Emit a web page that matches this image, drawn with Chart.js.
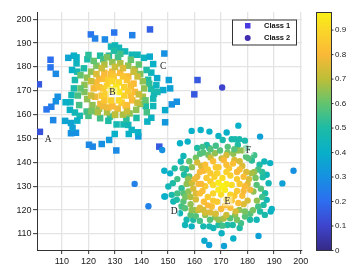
<!DOCTYPE html>
<html>
<head>
<meta charset="utf-8">
<script src="https://cdn.jsdelivr.net/npm/chart.js@4.4.1/dist/chart.umd.min.js"></script>
<style>
  body { margin: 0; background: #fff; }
  canvas { display: block; }
</style>
</head>
<body>
<canvas id="myChart" width="360" height="279"></canvas>
<script>
//# data: [x, y, level]
const xTicks = [110, 120, 130, 140, 150, 160, 170, 180, 190, 200];
const yTicks = [110, 120, 130, 140, 150, 160, 170, 180, 190, 200];
const barTicks = [0, 0.1, 0.2, 0.3, 0.4, 0.5, 0.6, 0.7, 0.8, 0.9];
const barMax = 0.972;

const class1Points = [
  // far points
  [143.2,195.7,0.17],[129.7,194.4,0.22],[120.9,193.6,0.22],[122.5,191.9,0.25],[126.2,191.5,0.28],[136.5,193.3,0.25],
  [148.6,185.6,0.3],[105.7,183,0.2],[105.7,179.8,0.22],[107.7,177.1,0.28],[101.3,172.7,0.15],[108.4,167.5,0.3],
  [107.7,165.6,0.3],[106,163.3,0.25],[104.2,162.2,0.22],[106.7,157.7,0.27],[101.7,152.8,0.13],[150.3,174.5,0.35],
  [150.8,171,0.35],[153.3,165.4,0.3],[151.4,164.3,0.3],[148.2,170.3,0.38],[148.9,161.9,0.38],[148.9,156.8,0.32],
  [161.1,174.5,0.15],[159.9,168.5,0.15],[113.4,152.2,0.3],[115.3,152.4,0.3],[120.2,147.4,0.27],[121.6,146.6,0.27],
  [125,147.7,0.3],[127.8,149.4,0.33],[130.5,145,0.28],[129.9,151.9,0.4],[135.2,151.9,0.4],[138.8,150.9,0.33],
  [146.7,146.6,0.15],
  // outer ring
  [128.5,188.5,0.45],[130,189,0.45],[131.5,188,0.45],[129.6,186.8,0.5],[133.8,186.5,0.45],[124.4,184.7,0.5],
  [114.5,184.7,0.4],[115.5,184,0.4],[112.4,183.8,0.36],[119.6,183.2,0.48],[125.6,183.2,0.55],[127.7,184.7,0.52],
  [131.2,184,0.55],[136.3,185.1,0.45],[138.5,185.1,0.45],[140.9,183.8,0.43],[143.1,184.3,0.38],[144.4,181.2,0.4],
  [143.7,177.6,0.43],[145.9,175.3,0.38],[142.5,174.6,0.5],[115.5,181.5,0.43],[113.8,178.7,0.4],[115.8,178,0.46],
  [118.3,179.4,0.5],[114.9,174.5,0.48],[114.5,171,0.48],[113.6,168.2,0.46],[113.2,165.2,0.43],[111.4,165.2,0.4],
  [113,162,0.41],[114.9,160.9,0.45],[116.7,159.5,0.47],[115.8,157.5,0.4],[113.4,156.5,0.36],[111.2,157.4,0.36],
  [114,154.5,0.35],[119.3,161.3,0.55],[123.3,161.3,0.6],[124.4,158.5,0.55],[128.1,159.2,0.55],[130,159.9,0.58],
  [127.5,157.4,0.5],[130.6,155.9,0.47],[133.2,155.9,0.47],[135,155.7,0.45],[136.3,153.6,0.42],[134.3,158.2,0.52],
  [138.1,158.6,0.5],[138.7,152.6,0.4],[142.2,157.1,0.42],[143.7,158.7,0.42],[144.4,163.6,0.45],[141.6,163.6,0.5],
  [144.4,166.7,0.46],[144.7,168.7,0.46],[143.7,170.8,0.5],[145.6,172.3,0.43],[142.9,172.9,0.52],[141.9,178.7,0.5],
  // middle ring
  [121,178,0.65],[123,180.5,0.63],[126,181,0.68],[129,182,0.65],[132,181.5,0.68],[135,180.5,0.65],[137.5,179,0.68],
  [139.5,177,0.63],[140.5,174,0.65],[141,171,0.65],[140.5,167.5,0.68],[139.5,164.5,0.65],[138,162,0.65],[135.5,160.5,0.65],
  [133,160,0.68],[127,161,0.68],[124,162.5,0.65],[121.5,164,0.65],[119.5,166.5,0.65],[118.5,169.5,0.63],[118.5,172.5,0.65],
  [119.5,175.5,0.65],[117,176.5,0.6],[116.5,164,0.56],[117,171,0.6],[120,159.5,0.56],[136,183,0.6],[127,184,0.63],
  [122,182.5,0.6],[142,161,0.56],[120,185,0.52],[139,181,0.6],[146,169.5,0.47],[116,168,0.56],
  [121,161.5,0.62],[132,185.5,0.55],[141.5,166,0.6],
  // inner ring
  [124,175,0.8],[126,177.5,0.8],[129,178,0.78],[132,177.5,0.8],[135,176,0.8],[137,173,0.8],[137.5,169.5,0.8],
  [136.5,166,0.8],[134.5,163.5,0.8],[131,162.5,0.78],[127.5,163,0.78],[124.5,164.5,0.79],[122.5,167.5,0.78],
  [122,171,0.79],[123,173.5,0.8],[121,168,0.72],[125,179.5,0.72],[138.5,176,0.72],[138.5,165,0.72],[123.5,161,0.68],
  [133,179.5,0.75],[130,180,0.72],[121,174,0.72],[134.5,161.5,0.72],[130,160,0.7],
  [123,177,0.75],[137,178,0.72],[139,168.5,0.72],
  // core
  [125,168,0.85],[124,171.5,0.82],[126,175,0.82],[128.5,177,0.82],[133,176,0.84],[136,172,0.82],[136,168,0.82],
  [134,164,0.82],[129,163.5,0.8],[125.5,163.5,0.78],
  [125.5,171,0.85],[134.5,174.5,0.84],[126,166,0.84],[132.5,165,0.85],[129.5,176,0.85],[135,170,0.85],[127.5,174.5,0.87],
  [127,172,0.88],[129,174,0.9],[131.5,173.5,0.9],[133.5,171.5,0.88],[133.5,168,0.88],[131.5,166,0.9],[128.5,166,0.88],
  [126.5,168.5,0.87],[128.5,170.5,0.94],[131.5,169.5,0.94],[130.5,171.5,0.94],[130,170,0.96]
];

const class2Points = [
  // far points
  [170.4,171.4,0.1],[137.4,131,0.25],[142.6,121.6,0.25],[147.8,145.2,0.3],[197.3,136.5,0.3],[193.1,131.2,0.35],
  [184.1,109.2,0.35],[174.6,108.1,0.4],[171.1,105,0.35],[163.7,107.2,0.38],[165.5,105.4,0.35],[170.2,110.3,0.42],
  [148.6,136.5,0.4],[150.8,135.4,0.4],[148.6,125.7,0.4],[176.5,155.4,0.4],[184.7,150.8,0.35],
  // outer ring
  [158.9,153.2,0.4],[162.3,153.6,0.4],[165.6,152.9,0.4],[169,151.1,0.42],[172.1,152.5,0.4],[170.6,149.4,0.48],
  [174,149.7,0.48],[175.3,149.7,0.48],[176.9,149.7,0.48],[179,149.1,0.48],[176.3,147.3,0.5],[154.5,148,0.4],
  [157.4,148.7,0.4],[164.6,147.3,0.5],[165.6,145.9,0.5],[155.8,142.7,0.45],[154.8,140.4,0.45],[181.6,140.8,0.52],
  [184.5,139,0.5],[186.3,140.4,0.45],[188.5,139.7,0.42],[150.1,129.9,0.45],[187.2,134.8,0.45],[185.7,133.8,0.5],
  [187.9,131.3,0.45],[186.6,127.1,0.5],[187.2,124.3,0.45],[189.1,120.5,0.42],[188.7,119.4,0.42],[186,122.2,0.5],
  [184.7,119.4,0.5],[183.4,116,0.45],[180.9,116,0.5],[174.4,113.8,0.5],[172.4,113.8,0.5],[165.6,113.2,0.47],
  [163.3,113.2,0.47],[167.1,112.5,0.45],[169,113.8,0.5],[159.5,116,0.5],[157,116,0.47],[156.4,113.8,0.45],
  [158.9,113.2,0.42],[154.5,118.7,0.45],[152,123.6,0.45],[151.4,126.4,0.48],[148.9,125.7,0.4],[151.8,131.3,0.5],
  [153.3,124.3,0.5],[155.1,129.2,0.52],[156,134.8,0.5],[156.8,137.1,0.5],
  [152.5,137.5,0.5],[161,146,0.5],[186.5,118,0.48],[177,112.5,0.5],[185.5,136,0.52],
  // middle ring
  [160.5,142,0.62],[158,140.5,0.6],[163,146.5,0.55],[168,147,0.55],[172.5,146.5,0.58],[179.5,146,0.55],
  [182.5,143,0.55],[184,137,0.55],[185.5,125.5,0.55],[184,121.5,0.55],[181,118.5,0.58],[177.5,114.5,0.55],
  [170.5,113.5,0.55],[162,115.5,0.55],[158.5,118,0.58],[155,121.5,0.55],[153.5,127,0.55],[153.5,133,0.55],
  [155.5,137.5,0.55],
  [178,145,0.65],[176.5,145,0.65],[162.1,143.6,0.58],[163.3,144.1,0.58],[165.2,143.1,0.62],[167.7,143.8,0.65],
  [169.6,145,0.58],[172.4,144.1,0.62],[174.6,143.6,0.65],[179.4,142.4,0.58],[180.3,141.7,0.58],[158,134.1,0.58],
  [183.4,130.6,0.58],[182.2,127.8,0.65],[179,117.3,0.58],[176.9,120.1,0.65],[179,119.4,0.62],[175.3,118,0.65],
  [173.4,116.6,0.58],[169.6,115.9,0.58],[167.7,117,0.65],[165.8,116,0.58],[155.8,123.6,0.58],[156.4,120.8,0.58],
  [158.9,120.1,0.65],[164,118,0.65],[155.8,127.1,0.58],[158.3,131.3,0.65],[157.7,127.8,0.65],[159,138,0.65],
  [157,131,0.65],[156.5,125.5,0.62],[160,120,0.65],[182.5,136,0.65],[183.5,124,0.65],[182,120,0.62],[169,116,0.65],
  [175,145.5,0.58],[166,145.5,0.58],[185,129,0.58],[158.5,122.5,0.65],[160.5,117.5,0.58],
  [181.5,135.5,0.68],[157.5,133,0.65],[183,133.5,0.62],[158.5,125.5,0.68],[171,116.5,0.68],[176,116,0.62],
  // inner ring
  [170.2,141.7,0.72],[161.4,120.1,0.72],[163.3,120.1,0.72],[180.5,133,0.74],[181,128.5,0.78],[180,124,0.74],
  [160.5,124.5,0.74],[159.5,129,0.74],[161,140,0.74],[172,143,0.74],[177,140.5,0.74],[168,118.5,0.74],
  [164,119,0.74],[175.5,119.5,0.74],[166,119,0.75],[172,118,0.72],[159,131.5,0.72],[162.5,138.5,0.75],
  [166,142,0.72],[175,141,0.75],[178,138.5,0.75],[179.5,136,0.75],[180,131,0.75],[178.5,122.5,0.75],
  [162,121,0.75],[160.5,127,0.75],
  [162,136,0.8],[164,139,0.82],[167,140.5,0.82],[171,141,0.8],[174.5,139.5,0.82],
  [177,137,0.82],[178.5,134,0.82],[179,130,0.8],[178,126,0.82],[176.5,123,0.82],[173.5,121,0.82],[170,120.5,0.8],
  [166.5,121.5,0.82],[163.5,123.5,0.82],[162,127,0.82],[161.5,131,0.8],[160,133,0.78],[161,134,0.78],
  [163.5,136.5,0.8],[171.5,122,0.82],[165,122,0.8],[178.5,128,0.8],
  [165,137,0.85],[168,138,0.86],[173,137.5,0.85],[176,133,0.86],[176,128,0.85],[174,124,0.85],[168.5,123.5,0.86],
  [165,125.5,0.86],[164,130,0.86],[164.5,133.5,0.85],[169,138,0.85],[172,139,0.82],[177,131,0.85],[175,126,0.85],
  [167,124,0.85],[163,128,0.82],[162.5,131,0.8],[176,136,0.8],
  // core
  [172,124.5,0.88],[166,135.5,0.85],[168.5,135.5,0.88],[172,136,0.88],
  [167.5,134,0.88],[173.5,134.5,0.88],[173.5,126.5,0.89],[167,127,0.89],[166,132,0.87],[167,130.5,0.91],
  [174,130.5,0.91],[170.5,133.5,0.91],[170,126.5,0.91],[169,131.5,0.95],[172,131,0.95],[171.5,128.5,0.95],
  [169,128.5,0.95],[170.5,130,0.97]
];

const letterNames = ["A", "B", "C", "D", "E", "F"];
const letterX = [104.8, 129, 148.2, 152.3, 172.4, 180.3];
const letterY = [150, 169.3, 180.5, 119.5, 123.7, 145.2];

const legendNames = ["Class 1", "Class 2"];

//# colour map sampled from the colour bar
const mapStops = [
  [0.0, 53, 42, 135], [0.1, 62, 68, 205], [0.2, 45, 110, 240], [0.3, 22, 145, 225],
  [0.4, 8, 176, 200], [0.5, 30, 187, 165], [0.6, 100, 196, 110], [0.7, 190, 190, 55],
  [0.8, 250, 185, 55], [0.9, 250, 215, 40], [1.0, 249, 251, 14],
];
const colourFor = function (v) {
  v = Math.max(0, Math.min(1, v));
  for (let i = 1; i < mapStops.length; i++) {
    if (v <= mapStops[i][0]) {
      const a = mapStops[i - 1], b = mapStops[i];
      const f = (v - a[0]) / (b[0] - a[0]);
      const c = [1, 2, 3].map((k) => Math.round(a[k] + (b[k] - a[k]) * f));
      return `rgb(${c[0]},${c[1]},${c[2]})`;
    }
  }
  return "rgb(249,251,14)";
};

//# extra drawing: letters, legend box, colour bar
const extrasPlugin = {
  id: "extras",
  afterDatasetsDraw(chart) {
    const { ctx, scales } = chart;
    ctx.save();
    ctx.font = "9.5px 'Liberation Serif', serif";
    ctx.textAlign = "center";
    ctx.textBaseline = "middle";
    letterNames.forEach((name, i) => {
      const px = scales.x.getPixelForValue(letterX[i]);
      const py = scales.y.getPixelForValue(letterY[i]);
      ctx.fillStyle = "rgba(255,255,255,0.45)";
      ctx.fillRect(px - 5, py - 5, 10, 10);
      ctx.fillStyle = "#222";
      ctx.fillText(name, px, py + 0.5);
    });
    ctx.restore();
  },
  afterDraw(chart) {
    const { ctx, chartArea } = chart;
    ctx.save();

    // legend
    const lx = 232, ly = 19.5, lw = 64, lh = 25;
    ctx.fillStyle = "#fff";
    ctx.fillRect(lx, ly, lw, lh);
    ctx.strokeStyle = "#333";
    ctx.lineWidth = 1;
    ctx.strokeRect(lx + 0.5, ly + 0.5, lw, lh);
    ctx.fillStyle = "rgb(72,58,222)";
    ctx.fillRect(245, 23, 5.5, 5.5);
    ctx.fillStyle = "rgb(66,44,175)";
    ctx.beginPath();
    ctx.arc(247.7, 38, 3, 0, Math.PI * 2);
    ctx.fill();
    ctx.fillStyle = "#111";
    ctx.font = "bold 7.5px 'Liberation Sans', Arial, sans-serif";
    ctx.textBaseline = "middle";
    ctx.textAlign = "left";
    ctx.fillText(legendNames[0], 264, 26);
    ctx.fillText(legendNames[1], 264, 38);

    // colour bar
    const bx = 316, bw = 15;
    const top = chartArea.top, bottom = chartArea.bottom;
    const grad = ctx.createLinearGradient(0, bottom, 0, top);
    mapStops.forEach((s) => {
      if (s[0] <= barMax) grad.addColorStop(s[0] / barMax, `rgb(${s[1]},${s[2]},${s[3]})`);
    });
    grad.addColorStop(1, colourFor(barMax));
    ctx.fillStyle = grad;
    ctx.fillRect(bx, top, bw, bottom - top);
    ctx.strokeStyle = "#333";
    ctx.strokeRect(bx + 0.5, top + 0.5, bw, bottom - top);

    ctx.font = "8px 'Liberation Sans', Arial, sans-serif";
    ctx.fillStyle = "#222";
    barTicks.forEach((t) => {
      const y = bottom - (t / barMax) * (bottom - top);
      ctx.beginPath();
      ctx.moveTo(bx + bw, y + 0.5);
      ctx.lineTo(bx + bw + 2.5, y + 0.5);
      ctx.stroke();
      ctx.fillText(String(t), bx + bw + 4, y + 0.5);
    });
    ctx.restore();
  },
};

const config = {
  type: "scatter",
  data: {
    datasets: [
      {
        label: legendNames[0],
        data: class1Points.map((p) => ({ x: p[0], y: p[1] })),
        pointStyle: "rect",
        pointRadius: 4.6,
        pointBorderWidth: 0,
        pointBackgroundColor: class1Points.map((p) => colourFor(p[2])),
        order: 2,
      },
      {
        label: legendNames[1],
        data: class2Points.map((p) => ({ x: p[0], y: p[1] })),
        pointStyle: "circle",
        pointRadius: 3.2,
        pointBorderWidth: 0,
        pointBackgroundColor: class2Points.map((p) => colourFor(p[2])),
        order: 1,
      },
    ],
  },
  options: {
    responsive: false,
    animation: false,
    devicePixelRatio: 1,
    layout: { padding: { top: 12, right: 58, left: 0, bottom: 0 } },
    plugins: { legend: { display: false }, tooltip: { enabled: false } },
    scales: {
      x: {
        type: "linear",
        min: 100.6,
        max: 200.5,
        afterBuildTicks: (scale) => { scale.ticks = xTicks.map((v) => ({ value: v })); },
        afterFit: (scale) => { scale.height = 29; },
        grid: { color: "#e4e4e4", lineWidth: 1.3, tickColor: "#333", tickLength: 4, tickWidth: 1 },
        border: { display: true, color: "#333", width: 1 },
        ticks: { color: "#222", padding: 2, maxRotation: 0, font: { size: 9, family: "'Liberation Sans', Arial, sans-serif" } },
      },
      y: {
        type: "linear",
        min: 103.3,
        max: 203,
        afterBuildTicks: (scale) => { scale.ticks = yTicks.map((v) => ({ value: v })); },
        afterFit: (scale) => { scale.width = 37; },
        grid: { color: "#e4e4e4", lineWidth: 1.3, tickColor: "#333", tickLength: 4, tickWidth: 1 },
        border: { display: true, color: "#333", width: 1 },
        ticks: { color: "#222", padding: 1.5, font: { size: 9, family: "'Liberation Sans', Arial, sans-serif" } },
      },
    },
  },
  plugins: [extrasPlugin],
};

const ctx = document.getElementById("myChart").getContext("2d");
new Chart(ctx, config);
</script>
</body>
</html>
